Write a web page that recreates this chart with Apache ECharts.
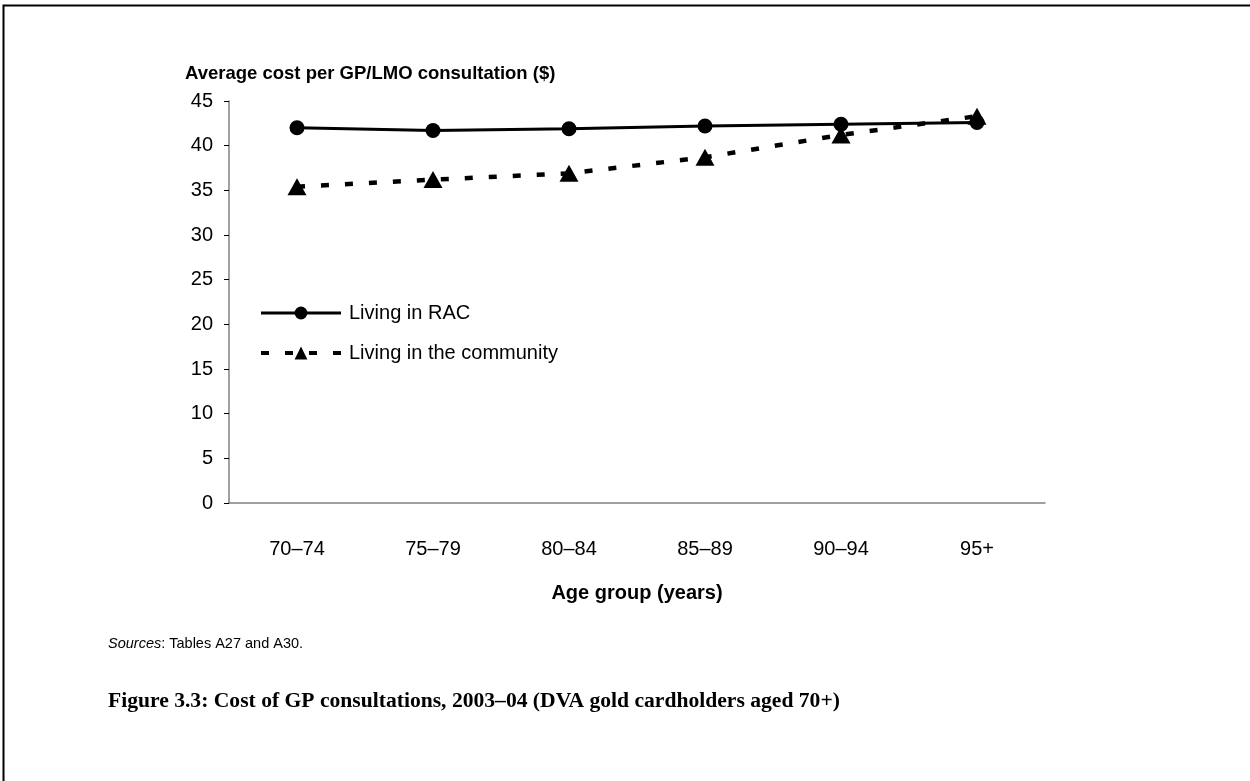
<!DOCTYPE html>
<html><head><meta charset="utf-8">
<script src="https://cdn.jsdelivr.net/npm/echarts@6/dist/echarts.min.js"></script>
<style>html,body{margin:0;padding:0;background:#fff}#c{width:1250px;height:781px}</style>
</head><body><div id="c"></div>
<script>
const categories = ['70–74', '75–79', '80–84', '85–89', '90–94', '95+'];
const racValues = [42.0, 41.7, 41.9, 42.2, 42.4, 42.6];
const communityValues = [35.4, 36.2, 36.9, 38.7, 41.2, 43.3];
const seriesNames = ['Living in RAC', 'Living in the community'];
const yAxisTitle = 'Average cost per GP/LMO consultation ($)';
const xAxisTitle = 'Age group (years)';
const captionText = 'Figure 3.3: Cost of GP consultations, 2003–04 (DVA gold cardholders aged 70+)';

const sans = 'Liberation Sans, Arial, sans-serif';
const chart = echarts.init(document.getElementById('c'), null, {renderer: 'canvas'});
chart.setOption({
  animation: false,
  backgroundColor: '#fff',
  grid: {left: 229, right: 205, top: 101, bottom: 278, containLabel: false},
  title: [
    {text: yAxisTitle, left: 180, top: 59, textStyle: {fontFamily: sans, fontWeight: 'bold', fontSize: 18.5, color: '#000'}},
    {text: '{i|Sources}{n|: Tables A27 and A30.}', left: 103, top: 631,
     textStyle: {fontWeight: 'normal', rich: {i: {fontFamily: sans, fontStyle: 'italic', fontWeight: 'normal', fontSize: 14.5, color: '#000'}, n: {fontFamily: sans, fontWeight: 'normal', fontSize: 14.5, color: '#000'}}}},
    {text: captionText, left: 103, top: 685, textStyle: {fontFamily: 'Liberation Serif, serif', fontWeight: 'bold', fontSize: 21.6, color: '#000'}}
  ],
  legend: {
    orient: 'vertical', left: 259, top: 303, padding: 0, itemWidth: 80, itemHeight: 16, itemGap: 20,
    textStyle: {fontFamily: sans, fontSize: 20, color: '#000', padding: [0, 0, 0, 3]},
    data: [
      {name: seriesNames[0], lineStyle: {width: 3}},
      {name: seriesNames[1], lineStyle: {width: 4}}
    ]
  },
  xAxis: {
    type: 'category', data: categories, boundaryGap: true,
    name: xAxisTitle, nameLocation: 'middle', nameGap: 80,
    nameTextStyle: {fontFamily: sans, fontWeight: 'bold', fontSize: 20, color: '#000'},
    axisLine: {lineStyle: {color: '#808080', width: 1.5}},
    axisTick: {alignWithLabel: true, length: 5, lineStyle: {color: '#000'}},
    axisLabel: {fontFamily: sans, fontSize: 20, color: '#000', margin: 36}
  },
  yAxis: {
    type: 'value', min: 0, max: 45, interval: 5,
    axisLine: {show: true, lineStyle: {color: '#808080', width: 1.5}},
    axisTick: {show: true, length: 5, lineStyle: {color: '#000'}},
    splitLine: {show: false},
    axisLabel: {fontFamily: sans, fontSize: 20, color: '#000', margin: 16}
  },
  series: [
    {name: seriesNames[0], type: 'line', data: racValues, symbol: 'circle', symbolSize: 15,
     lineStyle: {color: '#000', width: 3}, itemStyle: {color: '#000'}},
    {name: seriesNames[1], type: 'line', data: communityValues, symbol: 'triangle', symbolSize: [19, 17],
     lineStyle: {color: '#000', width: 4.5, type: [8, 16]}, itemStyle: {color: '#000'}}
  ],
  graphic: [
    {type: 'rect', silent: true, shape: {x: 3.5, y: 5.5, width: 1400, height: 1000},
     style: {fill: 'none', stroke: '#000', lineWidth: 2}}
  ]
});
</script></body></html>
